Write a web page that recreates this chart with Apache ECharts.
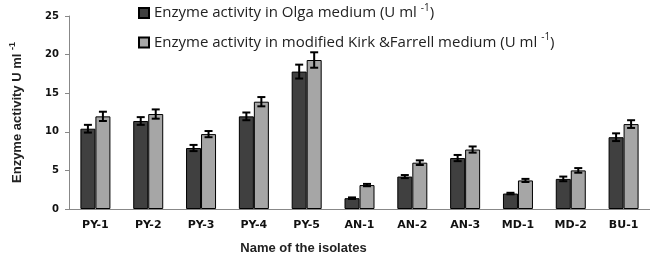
<!DOCTYPE html>
<html>
<head>
<meta charset="utf-8">
<script src="https://cdn.jsdelivr.net/npm/echarts@6/dist/echarts.min.js"></script>
<style>
  html, body { margin: 0; padding: 0; background: #fff; }
  #chart { width: 650px; height: 260px; }
</style>
</head>
<body>
<div id="chart"></div>
<script>
var isolates = ['PY-1', 'PY-2', 'PY-3', 'PY-4', 'PY-5', 'AN-1', 'AN-2', 'AN-3', 'MD-1', 'MD-2', 'BU-1'];
var olga = [10.4, 11.4, 7.9, 12.0, 17.8, 1.4, 4.2, 6.6, 2.0, 3.9, 9.3];
var olgaErr = [0.5, 0.5, 0.4, 0.5, 0.9, 0.1, 0.2, 0.4, 0.1, 0.3, 0.5];
var kirk = [12.0, 12.3, 9.7, 13.9, 19.3, 3.1, 6.0, 7.7, 3.7, 5.0, 11.0];
var kirkErr = [0.6, 0.6, 0.4, 0.6, 1.0, 0.15, 0.3, 0.4, 0.2, 0.3, 0.5];
var yTicks = [0, 5, 10, 15, 20, 25];

var barW = 15;

function errSeries(vals, errs, shift) {
  return {
    type: 'custom',
    data: vals.map(function (v, i) { return [i, v - errs[i], v + errs[i]]; }),
    z: 10,
    renderItem: function (params, api) {
      var lo = api.coord([api.value(0), api.value(1)]);
      var hi = api.coord([api.value(0), api.value(2)]);
      var x = lo[0] + shift;
      var st = { stroke: '#000', lineWidth: 2 };
      return {
        type: 'group',
        children: [
          { type: 'line', shape: { x1: x, y1: lo[1], x2: x, y2: hi[1] }, style: st },
          { type: 'line', shape: { x1: x - 4, y1: lo[1], x2: x + 4, y2: lo[1] }, style: st },
          { type: 'line', shape: { x1: x - 4, y1: hi[1], x2: x + 4, y2: hi[1] }, style: st }
        ]
      };
    }
  };
}

var chart = echarts.init(document.getElementById('chart'));
chart.setOption({
  backgroundColor: '#fff',
  animation: false,
  legend: {
    orient: 'vertical',
    left: 133,
    top: -2,
    icon: 'rect',
    itemWidth: 10,
    itemHeight: 10,
    itemGap: 12,
    data: ['olga', 'kirk'],
    formatter: function (name) {
      if (name === 'olga') return '{a|Enzyme activity in Olga medium (U ml }{s|-1}{a|)}';
      return '{a|Enzyme activity in modified Kirk &Farrell medium (U ml }{s|-1}{a|)}';
    },
    textStyle: {
      rich: {
        a: { fontFamily: 'Open Sans', fontSize: 15, color: '#222', lineHeight: 18 },
        s: { fontFamily: 'Open Sans', fontSize: 10, color: '#222', padding: [0, 0, 10, 0] }
      }
    }
  },
  grid: { left: 68, top: 16, width: 585, height: 195 },
  xAxis: {
    type: 'category',
    data: isolates,
    name: 'Name of the isolates',
    nameLocation: 'middle',
    nameGap: 33,
    nameTextStyle: {
      fontFamily: 'Liberation Sans', fontWeight: 'bold', fontSize: 13, color: '#222',
      padding: [0, 112, 0, 0]
    },
    axisLine: { lineStyle: { color: '#888', width: 1 } },
    axisTick: { show: false },
    axisLabel: { fontFamily: 'DejaVu Sans', fontWeight: 'bold', fontSize: 11, color: '#111', margin: 11 }
  },
  yAxis: {
    type: 'value',
    min: yTicks[0],
    max: yTicks[yTicks.length - 1],
    interval: 5,
    name: '{a|Enzyme activity U ml }{s|-1}',
    nameLocation: 'middle',
    nameGap: 42,
    nameTextStyle: {
      rich: {
        a: { fontFamily: 'Liberation Sans', fontWeight: 'bold', fontSize: 13, color: '#222' },
        s: { fontFamily: 'Liberation Sans', fontWeight: 'bold', fontSize: 9, color: '#222', padding: [0, 0, 10, 0] }
      }
    },
    axisLine: { show: true, lineStyle: { color: '#888', width: 1 } },
    axisTick: { show: true, length: 4, lineStyle: { color: '#888' } },
    splitLine: { show: false },
    axisLabel: { fontFamily: 'DejaVu Sans', fontWeight: 'bold', fontSize: 10, color: '#111', margin: 10 }
  },
  series: [
    {
      name: 'olga', type: 'bar', data: olga, barWidth: barW, barGap: '0%',
      itemStyle: { color: '#404040', borderColor: '#000', borderWidth: 1 }
    },
    {
      name: 'kirk', type: 'bar', data: kirk, barWidth: barW, barGap: '0%',
      itemStyle: { color: '#a6a6a6', borderColor: '#000', borderWidth: 1 }
    },
    errSeries(olga, olgaErr, -barW / 2),
    errSeries(kirk, kirkErr, barW / 2)
  ]
});
</script>
</body>
</html>
